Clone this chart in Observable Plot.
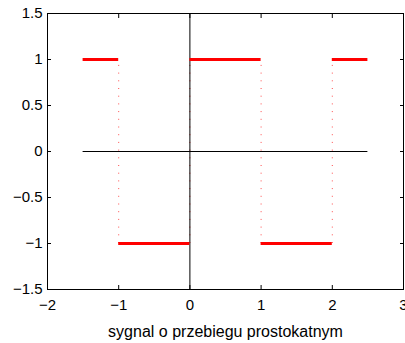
<!DOCTYPE html>
<html><head><meta charset="utf-8">
<script src="https://cdn.jsdelivr.net/npm/d3@7"></script>
<script src="https://cdn.jsdelivr.net/npm/@observablehq/plot@0.6"></script>
<style>body{margin:0;background:#fff}</style>
</head><body><div id="chart"></div>
<script>
const edges = [-1.5, -1, 0, 1, 2, 2.5];
const levels = [1, -1, 1, -1, 1];
const jumps = [-1, 0, 1, 2];
const jumpLow = -1;
const jumpHigh = 1;
const xTicks = [-2, -1, 0, 1, 2, 3];
const yTicks = [-1.5, -1, -0.5, 0, 0.5, 1, 1.5];
const xLabel = "sygnal o przebiegu prostokatnym";

const fmt = d => (d < 0 ? "\u2212" : "") + String(Math.abs(d));
const segments = levels.map((v, i) => ({x1: edges[i], x2: edges[i + 1], y: v}));
const jumpsData = jumps.map(x => ({x, y1: jumpLow, y2: jumpHigh}));
const zeroLine = [{x1: edges[0], x2: edges[edges.length - 1], y: 0}];

const plot = Plot.plot({
  width: 405, height: 343,
  marginLeft: 47, marginRight: 2, marginTop: 13, marginBottom: 54,
  style: {fontFamily: "'Liberation Sans', Arial, sans-serif", fontSize: "15px", color: "black", background: "white"},
  x: {domain: [-2, 3], ticks: xTicks, tickFormat: fmt},
  y: {domain: [-1.5, 1.5], ticks: yTicks, tickFormat: fmt},
  marks: [
    Plot.ruleX(jumpsData, {x: "x", y1: "y1", y2: "y2", stroke: "red", strokeOpacity: 0.7, strokeDasharray: "1 6.7"}),
    Plot.ruleY(zeroLine, {x1: "x1", x2: "x2", y: "y", stroke: "black"}),
    Plot.ruleX([0], {stroke: "black"}),
    Plot.ruleY(segments, {x1: "x1", x2: "x2", y: "y", stroke: "red", strokeWidth: 3}),
    Plot.frame({stroke: "black"}),
    Plot.axisX(xTicks, {anchor: "bottom", tickSize: 0, tickPadding: 10, label: null, tickFormat: fmt}),
    Plot.axisX(xTicks, {anchor: "bottom", tickSize: 4, dy: -4, fill: "none", label: null}),
    Plot.axisX(xTicks, {anchor: "top", tickSize: 4, dy: 4, fill: "none", label: null}),
    Plot.axisY(yTicks, {anchor: "left", tickSize: 0, tickPadding: 5, label: null, tickFormat: fmt}),
    Plot.axisY(yTicks, {anchor: "left", tickSize: 4, dx: 4, fill: "none", label: null}),
    Plot.axisY(yTicks, {anchor: "right", tickSize: 4, dx: -4, fill: "none", label: null}),
    Plot.text([xLabel], {frameAnchor: "bottom", dy: 47, fontSize: 16})
  ]
});
document.getElementById("chart").appendChild(plot);
</script>
</body></html>
